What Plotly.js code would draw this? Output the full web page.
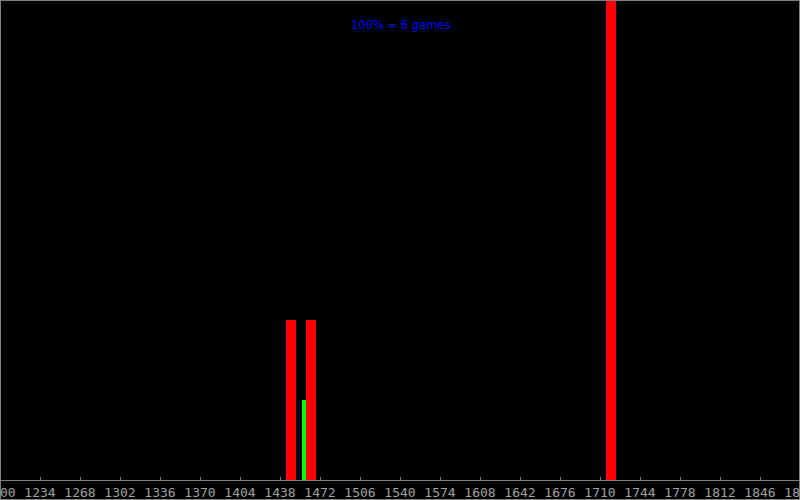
<!DOCTYPE html>
<html>
<head>
<meta charset="utf-8">
<script src="https://cdn.plot.ly/plotly-3.0.1.min.js"></script>
<style>
html,body{margin:0;padding:0;background:#000;}
#chart{width:800px;height:500px;background:#000;}
</style>
</head>
<body>
<div id="chart"></div>
<script>
// Data
const redCenters = [1447.35, 1464.35, 1719.35];
const redGames = [2, 2, 6];
const greenCenters = [1458.4];
const greenGames = [1];
const totalGames = 6;
const titleText = "100% = 6 games";
const tickValues = [1200,1234,1268,1302,1336,1370,1404,1438,1472,1506,1540,1574,1608,1642,1676,1710,1744,1778,1812,1846,1880];

const traces = [
  {type:'bar', x:redCenters, y:redGames, width:redCenters.map(()=>8.5),
   marker:{color:'#ff0000', line:{width:0}}, hoverinfo:'skip'},
  {type:'bar', x:greenCenters, y:greenGames, width:greenCenters.map(()=>3.4),
   marker:{color:'#00ff00', line:{width:0}}, hoverinfo:'skip'}
];

const layout = {
  width:800, height:500,
  paper_bgcolor:'#000', plot_bgcolor:'#000',
  margin:{l:0, r:0, t:0, b:20, pad:0},
  showlegend:false, barmode:'overlay',
  xaxis:{range:[1200,1880], tickvals:tickValues, ticktext:tickValues.map(String),
    showgrid:false, zeroline:false, showline:true, linecolor:'#808080', linewidth:1,
    ticks:'inside', ticklen:3, tickcolor:'#808080', tickwidth:1,
    tickfont:{family:"'DejaVu Sans Mono', monospace", size:13, color:'#a0a0a0'},
    ticklabeloverflow:'allow', ticklabelstandoff:0, automargin:false, fixedrange:true},
  yaxis:{range:[0,totalGames], visible:false, showgrid:false, zeroline:false, fixedrange:true},
  shapes:[{type:'rect', xref:'paper', yref:'paper', x0:0, x1:1, y0:-20/480, y1:1,
    line:{color:'#808080', width:2}, fillcolor:'rgba(0,0,0,0)', layer:'above'}],
  annotations:[{text:titleText, xref:'paper', yref:'paper', x:0.5, y:1, yshift:-25,
    xanchor:'center', yanchor:'middle', showarrow:false,
    font:{family:'DejaVu Sans', size:11.5, color:'#0000ff'}}]
};
Plotly.newPlot('chart', traces, layout, {displayModeBar:false, staticPlot:true});
</script>
</body>
</html>
